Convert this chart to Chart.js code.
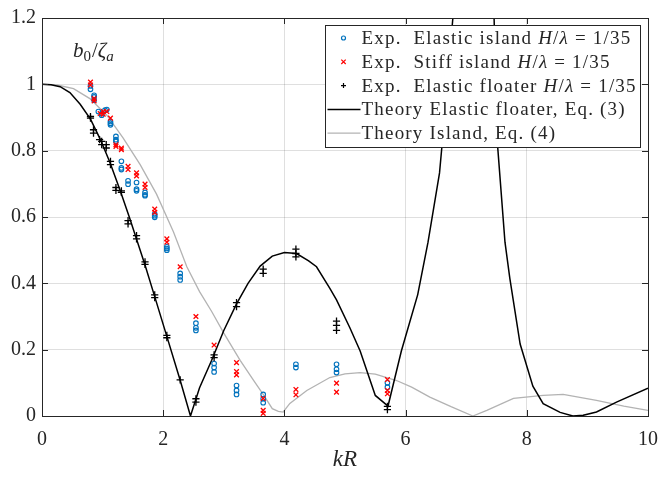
<!DOCTYPE html>
<html>
<head>
<meta charset="utf-8">
<script src="https://cdn.jsdelivr.net/npm/chart.js@4.4.1/dist/chart.umd.min.js"></script>
<style>
  html, body { margin: 0; padding: 0; background: #fff; }
  #wrap { width: 658px; height: 477px; }
</style>
</head>
<body>
<div id="wrap"><canvas id="chart" width="658" height="477"></canvas></div>
<script>
// ── Данные
const xTicks = [0, 2, 4, 6, 8, 10];
const yTicks = [0, 0.2, 0.4, 0.6, 0.8, 1.0, 1.2];

// Exp. Elastic island (синие кружки)
const islandKR = [0.80, 0.80, 0.86, 0.86, 0.86, 0.93, 0.985, 0.985, 1.04, 1.07,
    1.13, 1.13, 1.13, 1.22, 1.22, 1.22, 1.31, 1.31, 1.31, 1.42, 1.42,
    1.56, 1.56, 1.56, 1.70, 1.70, 1.70, 1.86, 1.86, 1.86, 2.06, 2.06, 2.06,
    2.28, 2.28, 2.28, 2.54, 2.54, 2.54, 2.84, 2.84, 2.84, 3.21, 3.21, 3.21,
    3.65, 3.65, 3.65, 4.19, 4.19, 4.86, 4.86, 4.86, 5.70, 5.70];
const islandB = [0.995, 0.985, 0.967, 0.962, 0.952, 0.918, 0.907, 0.912, 0.922, 0.924,
    0.888, 0.883, 0.878, 0.843, 0.833, 0.828, 0.768, 0.748, 0.743, 0.709, 0.699,
    0.704, 0.684, 0.679, 0.674, 0.667, 0.664, 0.609, 0.604, 0.599, 0.510, 0.505, 0.500,
    0.430, 0.420, 0.410, 0.280, 0.266, 0.258, 0.158, 0.146, 0.133, 0.092, 0.077, 0.065,
    0.065, 0.052, 0.040, 0.156, 0.146, 0.156, 0.141, 0.131, 0.100, 0.087];

// Exp. Stiff island (красные крестики)
const stiffKR = [0.80, 0.80, 0.86, 0.86, 0.96, 1.01, 1.01, 1.07, 1.13, 1.22, 1.22,
    1.31, 1.31, 1.42, 1.42, 1.56, 1.56, 1.70, 1.70, 1.86, 1.86, 2.06, 2.06,
    2.28, 2.54, 2.84, 3.21, 3.21, 3.21, 3.65, 3.65, 3.65, 4.19, 4.19, 4.86, 4.86,
    5.70, 5.70, 5.70];
const stiffB = [1.007, 0.998, 0.957, 0.950, 0.912, 0.918, 0.910, 0.918, 0.898, 0.818, 0.813,
    0.808, 0.803, 0.753, 0.743, 0.733, 0.724, 0.699, 0.689, 0.624, 0.614, 0.534, 0.524,
    0.450, 0.300, 0.214, 0.161, 0.134, 0.124, 0.053, 0.017, 0.008, 0.080, 0.064, 0.099, 0.072,
    0.110, 0.077, 0.067];

// Exp. Elastic floater (чёрные плюсы)
const floaterKR = [0.80, 0.80, 0.85, 0.85, 0.95, 0.985, 0.985, 1.06, 1.06, 1.13, 1.13,
    1.22, 1.22, 1.31, 1.31, 1.42, 1.42, 1.56, 1.56, 1.70, 1.70, 1.86, 1.86,
    2.06, 2.06, 2.28, 2.54, 2.54, 2.84, 2.84, 3.21, 3.21, 3.65, 3.65,
    4.19, 4.19, 4.19, 4.86, 4.86, 4.86, 5.70, 5.70];
const floaterB = [0.903, 0.898, 0.863, 0.853, 0.833, 0.828, 0.818, 0.818, 0.808, 0.768, 0.758,
    0.689, 0.680, 0.679, 0.674, 0.589, 0.579, 0.544, 0.534, 0.465, 0.457, 0.365, 0.357,
    0.243, 0.236, 0.109, 0.052, 0.042, 0.184, 0.176, 0.342, 0.330, 0.443, 0.430,
    0.503, 0.490, 0.480, 0.286, 0.273, 0.258, 0.029, 0.019];

// Theory Elastic floater, Eq. (3)
const floaterTheoryKR = [0, 0.15, 0.3, 0.46, 0.63, 0.8, 0.96, 1.12, 1.29, 1.45, 1.62, 1.70, 1.86,
    2.06, 2.28, 2.45, 2.6, 2.8, 3.0, 3.21, 3.4, 3.6, 3.8, 4.0, 4.2, 4.4, 4.53, 4.75,
    4.86, 5.08, 5.25, 5.5, 5.71, 5.93, 6.2, 6.37, 6.56, 6.6, 6.78, 7.0, 7.3, 7.46,
    7.52, 7.64, 7.72, 7.89, 8.1, 8.27, 8.55, 8.76, 8.93, 9.15, 9.48, 10];
const floaterTheoryB = [1.0, 0.999, 0.993, 0.975, 0.94, 0.895, 0.835, 0.765, 0.680, 0.595, 0.500, 0.455, 0.360,
    0.240, 0.108, 0.0, 0.085, 0.168, 0.258, 0.338, 0.400, 0.452, 0.482, 0.493, 0.490, 0.468, 0.450, 0.385,
    0.350, 0.266, 0.196, 0.062, 0.030, 0.196, 0.366, 0.524, 0.733, 0.814, 1.200, 1.600, 1.600, 1.200,
    0.810, 0.524, 0.415, 0.217, 0.090, 0.037, 0.011, 0.0, 0.002, 0.012, 0.042, 0.084];

// Theory Island, Eq. (4)
const islandTheoryKR = [0, 0.25, 0.52, 0.79, 1.07, 1.34, 1.62, 1.89, 2.17, 2.39, 2.6, 2.8,
    3.0, 3.27, 3.5, 3.65, 3.8, 3.9, 3.98, 4.09, 4.37, 4.75, 5.0, 5.25, 5.5, 5.85, 6.1,
    6.4, 6.75, 7.11, 7.34, 7.78, 8.27, 8.6, 9.15, 9.6, 10];
const islandTheoryB = [1.0, 0.998, 0.987, 0.957, 0.907, 0.838, 0.758, 0.669, 0.555, 0.450, 0.375, 0.315,
    0.250, 0.168, 0.105, 0.065, 0.022, 0.014, 0.012, 0.038, 0.077, 0.116, 0.127, 0.131, 0.126, 0.107, 0.087,
    0.057, 0.028, 0.0, 0.017, 0.053, 0.062, 0.065, 0.047, 0.030, 0.017];

// ── Стиль
const SERIF     = "'Liberation Serif', 'DejaVu Serif', serif";
const AXIS_CLR  = '#262626';
const GRID_CLR  = 'rgba(38,38,38,0.15)';
const BLUE      = '#0072BD';
const RED       = '#FF0000';
const GRAY      = '#b3b3b3';

const toXY = (xs, ys) => xs.map((x, i) => ({ x, y: ys[i] }));

// Подписи легенды: [текст, курсив?]
const legendRows = [
    { kind: 'circle', parts: [['Exp.  Elastic island ', 0], ['H', 1], ['/', 0], ['λ', 1], [' = 1/35', 0]] },
    { kind: 'x',      parts: [['Exp.  Stiff island ', 0], ['H', 1], ['/', 0], ['λ', 1], [' = 1/35', 0]] },
    { kind: 'plus',   parts: [['Exp.  Elastic floater ', 0], ['H', 1], ['/', 0], ['λ', 1], [' = 1/35', 0]] },
    { kind: 'black',  parts: [['Theory Elastic floater, Eq. (3)', 0]] },
    { kind: 'gray',   parts: [['Theory Island, Eq. (4)', 0]] }
];

function drawParts(ctx, x, y, parts, size) {
    for (const [txt, it] of parts) {
        ctx.font = (it ? 'italic ' : '') + size + 'px ' + SERIF;
        ctx.fillText(txt, x, y);
        x += ctx.measureText(txt).width;
    }
    return x;
}

// Рамка осей и внутренние засечки, как в MATLAB
const framePlugin = {
    id: 'frame',
    afterDatasetsDraw(chart) {
        const { ctx, chartArea: a, scales } = chart;
        ctx.save();
        ctx.strokeStyle = AXIS_CLR;
        ctx.lineWidth = 1;
        ctx.beginPath();
        xTicks.forEach(v => {
            const px = Math.round(scales.x.getPixelForValue(v)) + 0.5;
            ctx.moveTo(px, a.bottom); ctx.lineTo(px, a.bottom - 6);
            ctx.moveTo(px, a.top);    ctx.lineTo(px, a.top + 6);
        });
        yTicks.forEach(v => {
            const py = Math.round(scales.y.getPixelForValue(v)) + 0.5;
            ctx.moveTo(a.left, py);  ctx.lineTo(a.left + 6, py);
            ctx.moveTo(a.right, py); ctx.lineTo(a.right - 6, py);
        });
        ctx.stroke();
        ctx.strokeRect(Math.round(a.left) + 0.5, Math.round(a.top) + 0.5,
            Math.round(a.right - a.left), Math.round(a.bottom - a.top));
        ctx.restore();
    }
};

// Легенда с курсивом и подпись b0/ζa
const legendPlugin = {
    id: 'mathLegend',
    afterDraw(chart) {
        const { ctx, chartArea: a } = chart;
        const boxW = 315, rowH = 23.8;
        const left = Math.round(a.right - 8 - boxW) + 0.5;
        const top  = Math.round(a.top + 7) + 0.5;
        const boxH = 122;
        ctx.save();
        ctx.fillStyle = '#fff';
        ctx.fillRect(left, top, boxW, boxH);
        ctx.strokeStyle = AXIS_CLR;
        ctx.lineWidth = 1;
        ctx.strokeRect(left, top, boxW, boxH);

        legendRows.forEach((row, i) => {
            const cy = top + 12.5 + i * rowH;
            const mx = left + 18;
            ctx.lineWidth = 1.2;
            if (row.kind === 'circle') {
                ctx.strokeStyle = BLUE;
                ctx.beginPath(); ctx.arc(mx, cy, 2, 0, Math.PI * 2); ctx.stroke();
            } else if (row.kind === 'x') {
                ctx.strokeStyle = RED;
                ctx.beginPath();
                ctx.moveTo(mx - 2.2, cy - 2.2); ctx.lineTo(mx + 2.2, cy + 2.2);
                ctx.moveTo(mx - 2.2, cy + 2.2); ctx.lineTo(mx + 2.2, cy - 2.2);
                ctx.stroke();
            } else if (row.kind === 'plus') {
                ctx.strokeStyle = '#000';
                ctx.beginPath();
                ctx.moveTo(mx - 2.5, cy); ctx.lineTo(mx + 2.5, cy);
                ctx.moveTo(mx, cy - 2.5); ctx.lineTo(mx, cy + 2.5);
                ctx.stroke();
            } else {
                ctx.strokeStyle = row.kind === 'black' ? '#000' : GRAY;
                ctx.lineWidth = row.kind === 'black' ? 1.5 : 1.2;
                ctx.beginPath(); ctx.moveTo(left + 2, cy); ctx.lineTo(left + 35, cy); ctx.stroke();
            }
            ctx.fillStyle = AXIS_CLR;
            ctx.textBaseline = 'middle';
            ctx.letterSpacing = '1.2px';
            drawParts(ctx, left + 36, cy + 1, row.parts, 19);
        });

        // b_0 / ζ_a
        ctx.fillStyle = AXIS_CLR;
        ctx.textBaseline = 'alphabetic';
        ctx.letterSpacing = '0px';
        let x = a.left + 31, y = a.top + 39;
        x = drawParts(ctx, x, y, [['b', 1]], 21);
        x = drawParts(ctx, x, y + 4, [['0', 0]], 15) + 1;
        x = drawParts(ctx, x, y, [['/', 0], ['ζ', 1]], 21);
        drawParts(ctx, x, y + 4, [['a', 1]], 15);
        ctx.restore();
    }
};

new Chart(document.getElementById('chart'), {
    type: 'scatter',
    data: {
        datasets: [
            {
                label: 'Exp. Elastic island H/λ = 1/35',
                data: toXY(islandKR, islandB),
                pointStyle: 'circle',
                pointRadius: 2.3,
                borderWidth: 1.1,
                borderColor: BLUE,
                backgroundColor: 'rgba(0,0,0,0)',
                order: 2
            },
            {
                label: 'Exp. Stiff island H/λ = 1/35',
                data: toXY(stiffKR, stiffB),
                pointStyle: 'crossRot',
                pointRadius: 3.3,
                borderWidth: 1.3,
                borderColor: RED,
                backgroundColor: RED,
                order: 1
            },
            {
                label: 'Exp. Elastic floater H/λ = 1/35',
                data: toXY(floaterKR, floaterB),
                pointStyle: 'cross',
                pointRadius: 3.6,
                borderWidth: 1.3,
                borderColor: '#000',
                backgroundColor: '#000',
                order: 0
            },
            {
                label: 'Theory Elastic floater, Eq. (3)',
                data: toXY(floaterTheoryKR, floaterTheoryB),
                showLine: true,
                pointRadius: 0,
                borderColor: '#000',
                borderWidth: 1.5,
                tension: 0,
                order: 3
            },
            {
                label: 'Theory Island, Eq. (4)',
                data: toXY(islandTheoryKR, islandTheoryB),
                showLine: true,
                pointRadius: 0,
                borderColor: GRAY,
                borderWidth: 1.3,
                tension: 0,
                order: 4
            }
        ]
    },
    options: {
        responsive: false,
        animation: false,
        events: [],
        layout: { padding: { top: 13, right: 0, left: 0, bottom: 0 } },
        plugins: {
            legend: { display: false },
            tooltip: { enabled: false }
        },
        scales: {
            x: {
                type: 'linear',
                min: 0, max: 10,
                afterBuildTicks: s => { s.ticks = xTicks.map(v => ({ value: v })); },
                afterFit: s => { s.height = 61; s.paddingLeft = 0; s.paddingRight = 10; },
                grid: { color: GRID_CLR, lineWidth: 1, drawTicks: false },
                border: { display: false },
                ticks: {
                    padding: 12,
                    color: AXIS_CLR,
                    font: { family: SERIF, size: 20 },
                    callback: v => String(+v.toFixed(1))
                },
                title: {
                    display: true,
                    text: 'kR',
                    color: AXIS_CLR,
                    font: { family: SERIF, size: 23, style: 'italic' },
                    padding: { top: 0, bottom: 3 }
                }
            },
            y: {
                type: 'linear',
                min: 0, max: 1.2,
                afterBuildTicks: s => { s.ticks = yTicks.map(v => ({ value: v })); },
                afterFit: s => { s.width = 42; },
                grid: { color: GRID_CLR, lineWidth: 1, drawTicks: false },
                border: { display: false },
                ticks: {
                    padding: 6,
                    color: AXIS_CLR,
                    font: { family: SERIF, size: 20 },
                    callback: v => String(+v.toFixed(1))
                }
            }
        }
    },
    plugins: [framePlugin, legendPlugin]
});
</script>
</body>
</html>
